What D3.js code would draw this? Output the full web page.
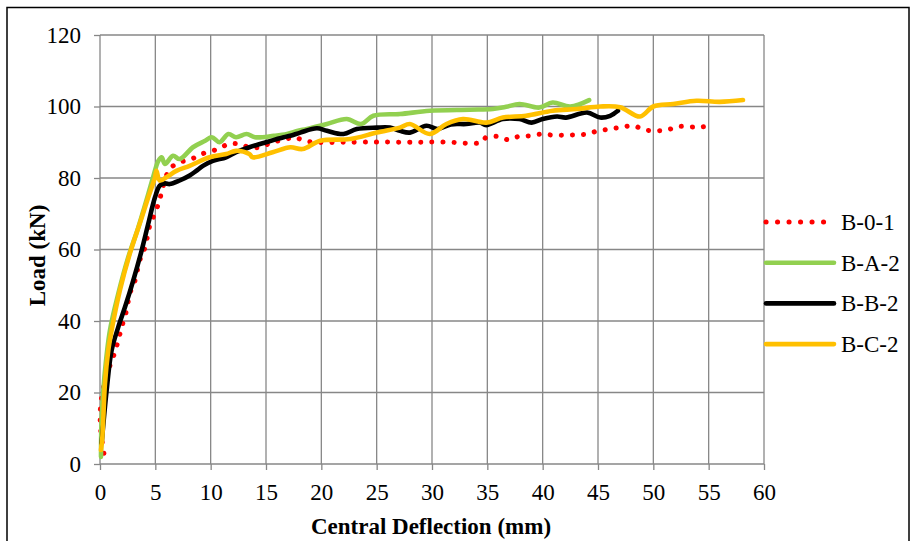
<!DOCTYPE html>
<html>
<head>
<meta charset="utf-8">
<script src="https://cdn.jsdelivr.net/npm/d3@7"></script>
<style>
  body { margin: 0; background: #fff; }
  text { font-family: "Liberation Serif", "Times New Roman", serif; }
</style>
</head>
<body>
<svg width="915" height="541"></svg>
<script>
// data: [deflection mm, load kN]
var seriesNames = ['B-0-1', 'B-A-2', 'B-B-2', 'B-C-2'];

var b01 = [[0.35,3],[0.05,10],[0.05,16],[0.5,24],[1.2,30],[1.6,34],[1.96,38.3],[2.4,43],[2.7,47.7],[3.16,51.3],
  [3.6,57],[4.07,60.6],[4.5,66.7],[5.0,70.4],[5.4,74],[5.6,76.5],[6.3,82.5],[7.2,84.4],[8.0,85],[8.9,86.2],
  [9.6,87.2],[10.7,88.1],[11.6,89.5],[12.6,89.5],[13.5,88.6],[14.6,88.6],[15.5,90],[16.6,90.6],[17.5,91.4],
  [18.5,90.4],[19.6,90],[22,90],[25,90.1],[28,90],[31,90.1],[34.5,90],[34.9,91.4],[36,91.6],[36.9,90.7],
  [37.8,91.6],[38.8,91.8],[39.9,92.3],[40.9,92],[42,92],[43,92.1],[44,92.3],[45,93.2],[46.1,93.7],[47.1,94.2],
  [48.2,94.6],[49.2,93.5],[50.3,93.2],[51.3,93.5],[52.3,94.4],[53.4,94.3],[54.4,94.3],[55.5,94.8]];

var bA2 = [[0.09,2],[0.15,13],[0.4,24.4],[0.9,37.4],[1.65,47.6],[2.56,57.9],[3.46,66.2],[4.36,75.5],[4.8,80.2],
  [5.27,84.8],[5.57,85.8],[5.87,83.9],[6.6,86.2],[7.2,85.3],[8.4,88.6],[9.5,90.4],[10.1,91.4],[10.8,90],
  [11.6,92.3],[12.3,91.4],[13.25,92.3],[14,91.4],[15.7,91.8],[16.9,92.3],[17.9,93.2],[18.7,93.7],[20.5,95.1],
  [22.3,96.5],[23.6,95.1],[24.7,97.4],[27.1,97.9],[29.8,98.8],[33.4,99.1],[35.5,99.3],[36.7,99.9],[37.9,100.7],
  [39.7,99.7],[40.9,101.1],[42.5,100],[44.2,101.8]];

var bB2 = [[0.15,5.8],[0.6,20.6],[1.05,31.8],[1.65,38.3],[2.26,43.9],[3.0,51.3],[3.76,59.7],[4.36,67.2],
  [4.97,74.6],[5.4,77.9],[5.87,78.5],[6.3,78.3],[7.2,79.3],[8.1,80.7],[8.7,82],[9.3,83.4],[10.2,84.8],
  [11.4,85.8],[12.3,87.2],[13.5,88.6],[15,90],[16.6,91.4],[17.2,91.8],[18.1,92.7],[19.6,93.9],[20.5,93.2],
  [22,92.3],[23.2,93.7],[25,94.1],[26.2,94.1],[27.1,93.2],[28,92.7],[29.5,94.6],[30.5,93.7],[31.7,95],
  [33.1,95.1],[34.3,95.5],[34.9,94.8],[36.4,96.5],[37.9,96.5],[39,95.5],[40,96.5],[41.3,97.2],[42.1,96.9],
  [44,98.3],[45.2,96.9],[46.1,97.4],[46.8,98.8]];

var bC2 = [[0.09,3.9],[0.2,7],[0.3,13],[0.45,22.6],[0.75,31.8],[1.05,37.4],[1.8,48.6],[2.7,58.9],[3.6,67.3],
  [4.36,74.6],[4.97,80.2],[5.1,82],[5.4,79.3],[6.0,80.2],[6.9,82],[8.1,83.4],[9.9,85.8],[11.4,86.7],
  [12.3,87.6],[13.5,86.7],[13.8,85.8],[15.6,87.2],[17.2,88.6],[18.3,88.1],[19.9,90.4],[22.6,90.9],[25,92.7],
  [27.1,94.1],[28,95.1],[29.8,92.3],[31.3,95.1],[32.8,96.5],[34.9,95.5],[36.4,96.9],[38.5,97.4],[40.9,98.8],
  [43.1,99.3],[45.2,100],[47,99.8],[48.8,97.2],[50,100],[51.8,100.7],[53.9,101.6],[56,101.3],[58.1,101.8]];

var xTicks = [0, 5, 10, 15, 20, 25, 30, 35, 40, 45, 50, 55, 60];
var yTicks = [0, 20, 40, 60, 80, 100, 120];

var colors = ['#ff0000', '#92d050', '#000000', '#ffc000'];
var allSeries = [b01, bA2, bB2, bC2];

var svg = d3.select('svg');
var padding = {t: 35, r: 151, b: 77, l: 100};
var chartWidth = 915 - padding.l - padding.r;
var chartHeight = 541 - padding.t - padding.b;

// outer chart border
svg.append('rect')
  .attr('x', 7).attr('y', 7.5)
  .attr('width', 902).attr('height', 560)
  .attr('fill', 'none').attr('stroke', '#000').attr('stroke-width', 1.5);

var chartG = svg.append('g')
  .attr('transform', 'translate(' + [padding.l, padding.t] + ')');

var xScale = d3.scaleLinear().domain([0, 60]).range([0, chartWidth]);
var yScale = d3.scaleLinear().domain([0, 120]).range([chartHeight, 0]);

// gridlines
chartG.append('g').selectAll('line.vg').data(xTicks).enter().append('line')
  .attr('x1', d => xScale(d)).attr('x2', d => xScale(d))
  .attr('y1', 0).attr('y2', chartHeight)
  .attr('stroke', '#878787').attr('stroke-width', 1.3);
chartG.append('g').selectAll('line.hg').data(yTicks).enter().append('line')
  .attr('x1', 0).attr('x2', chartWidth)
  .attr('y1', d => yScale(d)).attr('y2', d => yScale(d))
  .attr('stroke', '#878787').attr('stroke-width', 1.3);

// axes
var xAxis = chartG.append('g')
  .attr('transform', 'translate(0,' + chartHeight + ')')
  .call(d3.axisBottom(xScale).tickValues(xTicks).tickSize(6).tickPadding(14));
var yAxis = chartG.append('g')
  .call(d3.axisLeft(yScale).tickValues(yTicks).tickSize(6).tickPadding(13));
[xAxis, yAxis].forEach(function(ax) {
  ax.selectAll('path, line').attr('stroke', '#878787').attr('stroke-width', 1.3);
  ax.select('.domain').remove();
  ax.selectAll('text').attr('font-family', 'Liberation Serif').attr('font-size', 23).attr('fill', '#000');
});

// curves
var line = d3.line()
  .x(d => xScale(d[0]))
  .y(d => yScale(d[1]))
  .curve(d3.curveCatmullRom.alpha(0.5));

allSeries.forEach(function(s, i) {
  var p = chartG.append('path')
    .datum(s)
    .attr('d', line)
    .attr('fill', 'none')
    .attr('stroke', colors[i])
    .attr('stroke-linejoin', 'round')
    .attr('stroke-linecap', 'round');
  if (i === 0) {
    p.attr('stroke-width', 5).attr('stroke-dasharray', '0.1 11');
  } else {
    p.attr('stroke-width', 4.6);
  }
});

// axis titles
svg.append('text')
  .attr('x', padding.l + chartWidth / 2 - 1).attr('y', 534)
  .attr('text-anchor', 'middle')
  .attr('font-weight', 'bold').attr('font-size', 23)
  .text('Central Deflection (mm)');
svg.append('text')
  .attr('transform', 'translate(45,' + (padding.t + chartHeight / 2 + 6) + ') rotate(-90)')
  .attr('text-anchor', 'middle')
  .attr('font-weight', 'bold').attr('font-size', 23)
  .text('Load (kN)');

// legend
var legend = svg.append('g').attr('transform', 'translate(766, 222)');
seriesNames.forEach(function(name, i) {
  var g = legend.append('g').attr('transform', 'translate(0,' + i * 40.7 + ')');
  var l = g.append('line')
    .attr('x1', 0).attr('x2', 68).attr('y1', 0).attr('y2', 0)
    .attr('stroke', colors[i]).attr('stroke-linecap', 'round');
  if (i === 0) l.attr('stroke-width', 5).attr('stroke-dasharray', '0.1 11.4');
  else l.attr('stroke-width', 4.6);
  g.append('text')
    .attr('x', 75).attr('y', 8)
    .attr('font-size', 23)
    .text(name);
});
</script>
</body>
</html>
